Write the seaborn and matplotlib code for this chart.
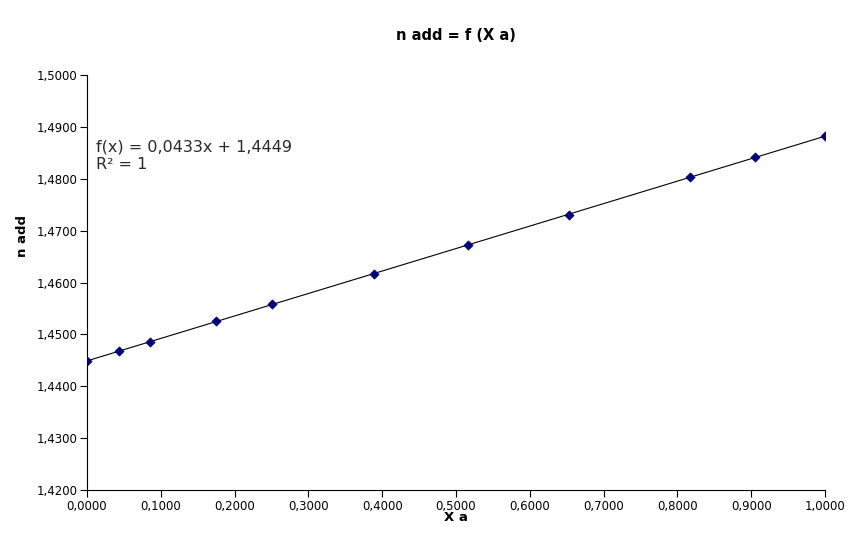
import numpy as np
import pandas as pd
from matplotlib import pyplot as plt
import seaborn as sns

# data
x_a = [0.0, 0.0434, 0.0854, 0.1748, 0.2507, 0.3889, 0.5163, 0.6531, 0.8171, 0.9051, 1.0]
n_add = [1.4449, 1.4467, 1.4486, 1.4525, 1.4558, 1.4617, 1.4673, 1.4731, 1.4803, 1.4841, 1.4882]
y_ticks = [1.42, 1.43, 1.44, 1.45, 1.46, 1.47, 1.48, 1.49, 1.50]
x_ticks = [0.0, 0.1, 0.2, 0.3, 0.4, 0.5, 0.6, 0.7, 0.8, 0.9, 1.0]
fit_text = 'f(x) = 0,0433x + 1,4449\nR² = 1'

df = pd.DataFrame({'x': x_a, 'y': n_add})

sns.set_theme(style='white')
plt.rcParams['font.family'] = ['DejaVu Sans']

fig = plt.figure(figsize=(8.65, 5.45), dpi=100)
ax = fig.add_axes([0.1006, 0.1009, 0.8532, 0.7615])

# points + linear trend line
sns.regplot(data=df, x='x', y='y', ci=None, ax=ax, marker='D',
            scatter_kws={'color': '#000080', 's': 22, 'alpha': 1, 'edgecolor': '#000070',
                         'linewidths': 0.5, 'zorder': 3},
            line_kws={'color': 'black', 'linewidth': 0.8})

ax.set_xlim(0, 1)
ax.set_ylim(1.42, 1.50)
ax.set_xticks(x_ticks)
ax.set_yticks(y_ticks)
ax.set_xticklabels([f'{v:.4f}'.replace('.', ',') for v in x_ticks], fontsize=8.5)
ax.set_yticklabels([f'{v:.4f}'.replace('.', ',') for v in y_ticks], fontsize=8.5)
ax.tick_params(axis='both', direction='out', length=5, width=0.8, color='black',
               bottom=True, left=True, pad=2, labelcolor='black')

for side in ['top', 'right']:
    ax.spines[side].set_visible(False)
for side in ['left', 'bottom']:
    ax.spines[side].set_color('black')
    ax.spines[side].set_linewidth(0.8)

ax.set_xlabel('X a', fontsize=9.5, fontweight='bold', labelpad=-1, color='black')
ax.set_ylabel('n add', fontsize=9.5, fontweight='bold', color='black')
ax.yaxis.set_label_coords(-0.079, 0.612)
ax.set_title('n add = f (X a)', fontsize=10.5, fontweight='bold', pad=34, color='black', y=0.97)

ax.text(0.012, 0.845, fit_text, transform=ax.transAxes, fontsize=11.5,
        va='top', ha='left', color='#2a2a2a', linespacing=1.25)

fig.savefig('out.png', dpi=100)
